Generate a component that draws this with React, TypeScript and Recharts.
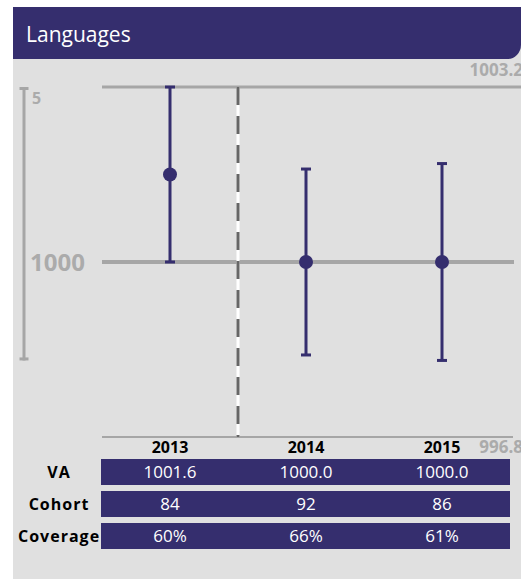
import React from "react";
import { ComposedChart, Line, ErrorBar, XAxis, YAxis, ReferenceLine, Label } from "recharts";

const years = ["2013", "2014", "2015"];
const vaValues = [1001.6, 1000.0, 1000.0];
const ciLower = [1000.0, 998.3, 998.2];
const ciUpper = [1003.2, 1001.7, 1001.8];
const cohortValues = [84, 92, 86];
const coverageValues = ["60%", "66%", "61%"];
const yDomain = [996.8, 1003.2];
const centreValue = 1000;
const scaleBarSize = 5;

const PURPLE = "#352e6e";
const GRAY = "#a6a6a6";
const LABEL_GRAY = "#ababab";
const FONT = "'Open Sans', sans-serif";

// plot area geometry (used by chart margins and the table below it)
const PLOT_LEFT = 102;
const PLOT_RIGHT = 510;
const BAND = (PLOT_RIGHT - PLOT_LEFT) / years.length;

const data = years.map((year, i) => ({
  year,
  slot: i + 0.5,
  va: vaValues[i],
  err: [vaValues[i] - ciLower[i], ciUpper[i] - vaValues[i]],
}));

const hLine = (extra: number, width: number) => (p: any) => {
  const x1 = Math.min(p.x1, p.x2);
  const x2 = Math.max(p.x1, p.x2) + extra;
  return <line x1={x1} y1={p.y1} x2={x2} y2={p.y2} stroke={GRAY} strokeWidth={width} />;
};

const dividerShape = (p: any) => {
  const top = Math.min(p.y1, p.y2);
  const bottom = Math.max(p.y1, p.y2);
  return (
    <g>
      <line x1={p.x1} y1={top} x2={p.x1} y2={bottom} stroke="#ffffff" strokeWidth={3} />
      <line x1={p.x1} y1={top} x2={p.x1} y2={bottom} stroke="#666666" strokeWidth={3} strokeDasharray="18 11" />
    </g>
  );
};

const scaleBarShape = (p: any) => {
  const top = Math.min(p.y1, p.y2);
  const bottom = Math.max(p.y1, p.y2);
  const x = 24;
  return (
    <g>
      <line x1={x} y1={top} x2={x} y2={bottom} stroke={GRAY} strokeWidth={3} />
      <line x1={x - 4.5} y1={top + 1.5} x2={x + 4.5} y2={top + 1.5} stroke={GRAY} strokeWidth={3} />
      <line x1={x - 4.5} y1={bottom - 1.5} x2={x + 4.5} y2={bottom - 1.5} stroke={GRAY} strokeWidth={3} />
      <text x={x + 8} y={top + 17} fill={LABEL_GRAY} style={{ fontSize: 16, fontWeight: 700 }}>
        {scaleBarSize}
      </text>
    </g>
  );
};

const edgeLabel = (text: string, dy: number) => (props: any) => {
  const vb = props.viewBox || {};
  return (
    <text x={vb.x + vb.width + 13} y={vb.y + dy} textAnchor="end" fill={LABEL_GRAY} style={{ fontSize: 17, fontWeight: 700 }}>
      {text}
    </text>
  );
};

const rows = [
  { label: "VA", values: vaValues.map((v) => v.toFixed(1)) },
  { label: "Cohort", values: cohortValues.map(String) },
  { label: "Coverage", values: coverageValues },
];

export default function App() {
  return (
    <div style={{ position: "absolute", left: 0, top: 0, width: 521, height: 579, overflow: "hidden", fontFamily: FONT, background: "#ffffff" }}>
      <div style={{ position: "absolute", left: 13, top: 7, width: 520, height: 580, background: "#e0e0e0" }} />
      <div style={{ position: "absolute", left: 13, top: 7, width: 508, height: 52, background: PURPLE, borderBottomRightRadius: 14 }}>
        <div style={{ position: "absolute", left: 13, top: 13, color: "#ffffff", fontSize: 21, lineHeight: "28px" }}>Languages</div>
      </div>

      <div style={{ position: "absolute", left: 0, top: 0 }}>
        <ComposedChart width={521} height={579} data={data} margin={{ top: 87, right: 521 - PLOT_RIGHT, bottom: 142, left: PLOT_LEFT }}>
          <XAxis dataKey="year" type="category" scale="band" hide />
          <XAxis xAxisId="slot" dataKey="slot" type="number" domain={[0, years.length]} allowDataOverflow hide />
          <YAxis type="number" domain={yDomain} allowDataOverflow hide />
          <ReferenceLine y={yDomain[1]} shape={hLine(20, 3)}>
            <Label content={edgeLabel(String(yDomain[1]), -11)} />
          </ReferenceLine>
          <ReferenceLine y={yDomain[0]} shape={hLine(3, 2)}>
            <Label content={edgeLabel(String(yDomain[0]), 16)} />
          </ReferenceLine>
          <ReferenceLine y={centreValue} shape={hLine(4, 4)}>
            <Label value={String(centreValue)} position="left" offset={17} fill={LABEL_GRAY} fontSize={24} fontWeight={700} />
          </ReferenceLine>
          <ReferenceLine x={1} xAxisId="slot" shape={dividerShape} />
          <ReferenceLine
            segment={[
              { x: years[0], y: yDomain[1] },
              { x: years[0], y: yDomain[1] - scaleBarSize },
            ]}
            ifOverflow="visible"
            shape={scaleBarShape}
          />
          <Line dataKey="va" stroke="none" dot={{ r: 7, fill: PURPLE, stroke: "none" }} activeDot={false} isAnimationActive={false}>
            <ErrorBar dataKey="err" direction="y" width={5} strokeWidth={3} stroke={PURPLE} />
          </Line>
        </ComposedChart>
      </div>

      {years.map((y, i) => (
        <div key={y} style={{ position: "absolute", left: PLOT_LEFT + BAND * i, top: 436, width: BAND, textAlign: "center", fontSize: 16, fontWeight: 700, lineHeight: "22px", color: "#000" }}>
          {y}
        </div>
      ))}

      {rows.map((row, r) => (
        <React.Fragment key={row.label}>
          <div style={{ position: "absolute", left: 18, top: 459 + r * 32, width: 82, textAlign: "center", fontSize: 16, fontWeight: 700, letterSpacing: 1, lineHeight: "26px", color: "#000", whiteSpace: "nowrap" }}>
            {row.label}
          </div>
          <div style={{ position: "absolute", left: PLOT_LEFT - 1, top: 459 + r * 32, width: PLOT_RIGHT - PLOT_LEFT + 1, height: 26, background: PURPLE }}>
            {row.values.map((v, i) => (
              <div key={i} style={{ position: "absolute", left: 1 + BAND * i, top: 0, width: BAND, textAlign: "center", fontSize: 17, lineHeight: "26px", color: "#ffffff" }}>
                {v}
              </div>
            ))}
          </div>
        </React.Fragment>
      ))}
    </div>
  );
}
